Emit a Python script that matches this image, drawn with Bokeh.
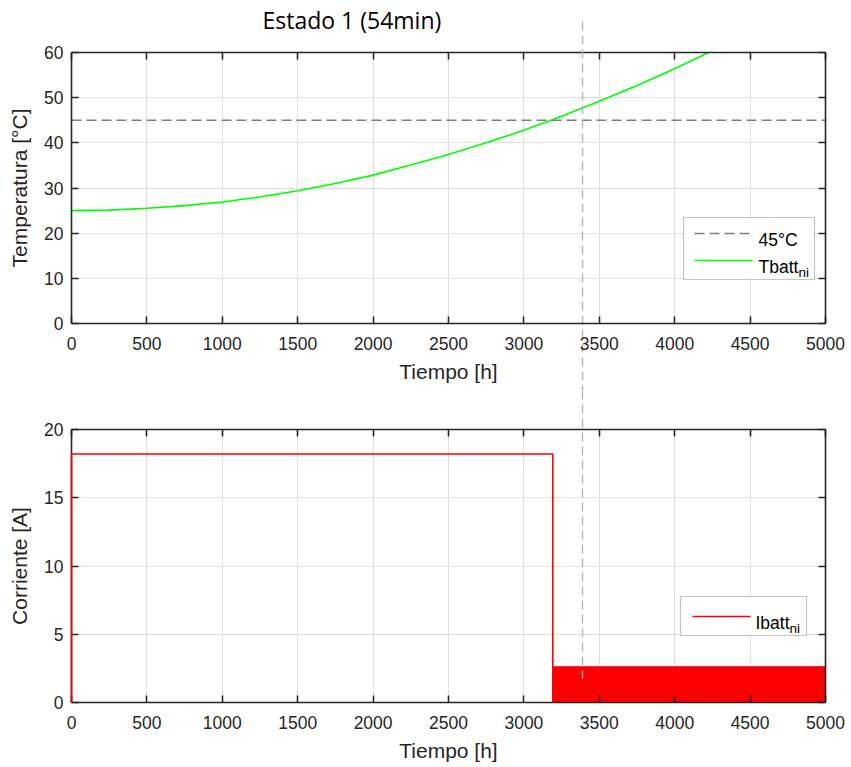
from bokeh.plotting import figure
from bokeh.layouts import column
from bokeh.models import LinearAxis, FixedTicker, Range1d, Label, Arrow, BoxAnnotation, Title
from bokeh.embed import file_html
from bokeh.resources import INLINE

# ---------------- data ----------------
time_h = [0, 250, 500, 750, 1000, 1250, 1500, 1750, 2000, 2250, 2500, 2750,
          3000, 3250, 3500, 3750, 4000, 4250]
temp_c = [25.0, 25.1, 25.5, 26.1, 26.9, 28.0, 29.4, 31.0, 32.85, 35.1, 37.4, 40.0,
          42.8, 45.9, 49.2, 52.7, 56.4, 60.4]
limit_c = 45
marker_t = 3390
i_time = [0, 0, 3192, 3192]
i_amp = [0, 18.2, 18.2, 0]
pwm_start = [3192]
pwm_end = [5000]
pwm_level = [2.62]
x_ticks = [0, 500, 1000, 1500, 2000, 2500, 3000, 3500, 4000, 4500, 5000]
t_ticks = [0, 10, 20, 30, 40, 50, 60]
i_ticks = [0, 5, 10, 15, 20]
title_text = "Estado 1 (54min)"

# ---------------- style ----------------
FONT = "Liberation Sans"
TICK_FS = "17.5px"
LAB_FS = "21px"
AX_COL = "#262626"
GRID_COL = "#dfdfdf"
VL_COL = "#b4b4b4"
W = 851
FL, FR = 71, 26


def style(p, ticks_y, ylabel):
    p.xaxis.ticker = FixedTicker(ticks=x_ticks)
    p.yaxis.ticker = FixedTicker(ticks=ticks_y)
    p.xgrid.ticker = FixedTicker(ticks=x_ticks)
    p.ygrid.ticker = FixedTicker(ticks=ticks_y)
    p.xaxis.axis_label = "Tiempo [h]"
    p.yaxis.axis_label = ylabel
    for g in (p.xgrid, p.ygrid):
        g.grid_line_color = GRID_COL
        g.grid_line_width = 1
    for ax in (p.xaxis, p.yaxis):
        ax.axis_line_color = AX_COL
        ax.axis_line_width = 1.6
        ax.major_tick_line_color = AX_COL
        ax.major_tick_line_width = 1.6
        ax.major_tick_in = 7
        ax.major_tick_out = 0
        ax.minor_tick_line_color = None
        ax.major_label_text_font = FONT
        ax.major_label_text_font_size = TICK_FS
        ax.major_label_text_color = AX_COL
        ax.axis_label_text_font = FONT
        ax.axis_label_text_font_size = LAB_FS
        ax.axis_label_text_font_style = "normal"
        ax.axis_label_text_color = AX_COL
    p.xaxis.major_label_standoff = 13
    p.yaxis.major_label_standoff = 8
    p.xaxis.axis_label_standoff = 7
    p.yaxis.axis_label_standoff = 10
    for side in ("above", "right"):
        ax = LinearAxis(ticker=FixedTicker(ticks=x_ticks if side == "above" else ticks_y))
        ax.axis_line_color = AX_COL
        ax.axis_line_width = 1.6
        ax.major_tick_line_color = AX_COL
        ax.major_tick_line_width = 1.6
        ax.major_tick_in = 7
        ax.major_tick_out = 0
        ax.minor_tick_line_color = None
        ax.major_label_text_font_size = "0px"
        ax.major_label_standoff = 0
        p.add_layout(ax, side)
    p.outline_line_color = None
    p.background_fill_color = "white"
    p.border_fill_color = "white"


def marker_axis(p, t_in, t_out):
    # dashed vertical marker at t = marker_t, drawn as the tick of an extra top axis
    ax = LinearAxis(ticker=FixedTicker(ticks=[marker_t]))
    ax.axis_line_color = None
    ax.major_tick_in = t_in
    ax.major_tick_out = t_out
    ax.major_tick_line_color = VL_COL
    ax.major_tick_line_width = 1.4
    ax.major_tick_line_dash = "9 5"
    ax.minor_tick_line_color = None
    ax.major_label_text_font_size = "0px"
    ax.major_label_standoff = 0
    p.add_layout(ax, "above")
    return ax


def legend_box(p, left, right, bottom, top):
    p.add_layout(BoxAnnotation(left=left, right=right, bottom=bottom, top=top,
                               left_units="screen", right_units="screen",
                               bottom_units="screen", top_units="screen",
                               fill_color="white", fill_alpha=1.0,
                               line_color="#3a3a3a", line_width=1.2, level="overlay"))


def legend_sample(p, x0, x1, y, color, dash="solid"):
    p.add_layout(Arrow(end=None, x_start=x0, y_start=y, x_end=x1, y_end=y,
                       start_units="screen", end_units="screen",
                       line_color=color, line_width=1.6, line_dash=dash, level="overlay"))


def legend_text(p, x, y, text, size=TICK_FS):
    p.add_layout(Label(x=x, y=y, x_units="screen", y_units="screen", text=text,
                       text_font=FONT, text_font_size=size, text_color="#000000",
                       text_baseline="alphabetic", level="overlay"))


# ---------------- top plot ----------------
H1 = 390
p1 = figure(width=W, height=H1, output_backend="svg", toolbar_location=None,
            x_range=Range1d(0, 5000), y_range=Range1d(0, 60),
            min_border_left=FL, min_border_right=FR, min_border_top=52, min_border_bottom=67)
style(p1, t_ticks, "Temperatura [°C]")
p1.line([0, 5000], [limit_c, limit_c], line_color="#7f7f7f", line_width=1.4, line_dash="10 5")
p1.line(time_h, temp_c, line_color="#00ff00", line_width=1.6)
marker_axis(p1, 345, 31)
p1.title = Title(text=title_text, align="left", offset=191, text_font="Open Sans",
                 text_font_size="23px", text_font_style="normal", text_color="#000000",
                 standoff=-29)

legend_box(p1, 612, 743, 44, 106)
legend_sample(p1, 623, 681, 90, "#7f7f7f", "10 5")
legend_sample(p1, 623, 681, 63, "#00ff00")
legend_text(p1, 687, 84, "45°C")
legend_text(p1, 687, 57, "Tbatt")
legend_text(p1, 727, 51, "ni", "13.5px")

# ---------------- bottom plot ----------------
H2 = 767 - H1
p2 = figure(width=W, height=H2, output_backend="svg", toolbar_location=None,
            x_range=Range1d(0, 5000), y_range=Range1d(0, 20),
            min_border_left=FL, min_border_right=FR, min_border_top=39, min_border_bottom=65)
style(p2, i_ticks, "Corriente [A]")
p2.quad(left=pwm_start, right=pwm_end, bottom=[0], top=pwm_level,
        fill_color="#ff0000", line_color="#ff0000", line_width=1)
r = p2.line(i_time, i_amp, line_color="#ff0000", line_width=1.6)
r.level = "overlay"
marker_axis(p2, 249, 39)

legend_box(p2, 609, 735, 67, 106)
legend_sample(p2, 621, 679, 86, "#ff0000")
legend_text(p2, 684, 80, "Ibatt")
legend_text(p2, 718, 74, "ni", "13.5px")

layout = column(p1, p2, spacing=0)
open("out.html", "w").write(file_html(layout, INLINE))
